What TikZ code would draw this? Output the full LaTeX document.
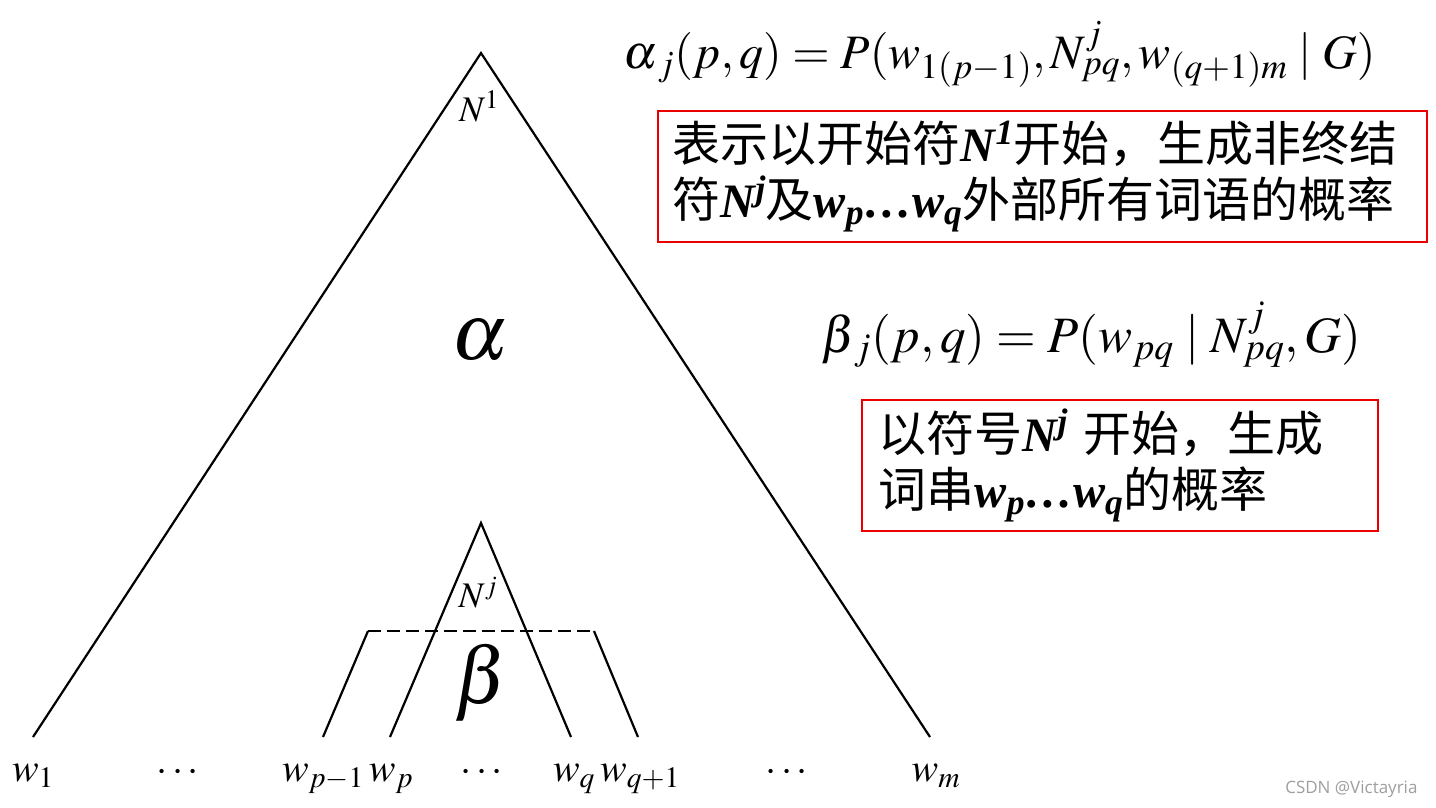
\documentclass[tikz,border=0pt]{standalone}
\usepackage{mathptmx}
\usepackage{fontspec}
\setmainfont{Liberation Serif}
\newfontfamily\cjk{Noto Sans CJK SC}
\newfontfamily\wmfont{Open Sans}
\definecolor{boxred}{rgb}{0.92,0,0}
\definecolor{wmgray}{rgb}{0.62,0.62,0.62}
\newcommand{\bi}[1]{\textbf{\textit{#1}}}

\begin{document}
\begin{tikzpicture}[x=1pt,y=-1pt,
  leg/.style={line width=2.2pt},
  leaf/.style={font=\fontsize{40}{40}\selectfont,anchor=base},
  redbox/.style={draw=boxred,line width=1.8pt,anchor=north west,align=left,
    inner xsep=15pt,font=\fontsize{48}{56}\selectfont}]
  \useasboundingbox (0,0) rectangle (1436,807);
  % tree
  \coordinate (root) at (481,53);
  \coordinate (sub) at (481,523);
  \coordinate (dl) at (368,631);
  \coordinate (dr) at (594,631);
  \foreach \n/\x in {e1/33,ep/323,epp/390,eq/571,eqq/638,em/930}
    \coordinate (\n) at (\x,737);
  \draw[leg] (e1) -- (root) -- (em);
  \draw[leg] (epp) -- (sub) -- (eq);
  \draw[leg] (ep) -- (dl);
  \draw[leg,dash pattern=on 13pt off 6pt] (dl) -- (dr);
  \draw[leg] (dr) -- (eqq);
    \node[font=\fontsize{36}{36}\selectfont] (n1) at (479,106) {$N^{1}$};
    \node[font=\fontsize{80}{80}\selectfont] (alpha) at (480,340) {$\alpha$};
    \node[font=\fontsize{36}{36}\selectfont] (nj) at (478,593) {$N^{j}$};
    \node[font=\fontsize{80}{80}\selectfont] (beta) at (481,683) {$\beta$};
  % leaves
  \foreach \n/\x/\t in {w1/33/w_{1},da/178/\cdots,wpm/323/w_{p-1},wp/391/w_{p},
      db/482/\cdots,wq/574/w_{q},wqp/640/w_{q+1},dc/787/\cdots,wm/936/w_{m}}
    \node[leaf] (\n) at (\x,781) {$\t$};
  % formulas and notes
  \node[font=\fontsize{48}{48}\selectfont,anchor=base west] (afor) at (620,68)
    {$\alpha_{\,j}(p,q)=P(w_{1(p-1)},N^{j}_{pq},w_{(q+1)m}\;|\;G)$};
  \node[redbox,minimum width=769,minimum height=131,text width=739] (anote) at (657,110)
    {{\cjk 表示以开始符}\bi{N\textsuperscript{1}}{\cjk 开始，生成非终结}\\
     {\cjk 符}\bi{N\textsuperscript{j}}{\cjk 及}\bi{w\textsubscript{p}…w\textsubscript{q}}{\cjk 外部所有词语的概率}};
  \node[font=\fontsize{51}{51}\selectfont,anchor=base west] (bfor) at (818,352)
    {$\beta_{\,j}(p,q)=P(w_{pq}\;|\;N^{j}_{pq},G)$};
  \node[redbox,minimum width=516,minimum height=131,text width=482,inner xsep=17pt] (bnote) at (861,399)
    {{\cjk 以符号}\bi{N\textsuperscript{j}} {\cjk 开始，生成}\\
     {\cjk 词串}\bi{w\textsubscript{p}…w\textsubscript{q}}{\cjk 的概率}};
  \node[font=\wmfont\fontsize{17}{17}\selectfont,text=wmgray,anchor=base east] (mark) at (1421,793)
    {CSDN @Victayria};
\end{tikzpicture}
\end{document}
